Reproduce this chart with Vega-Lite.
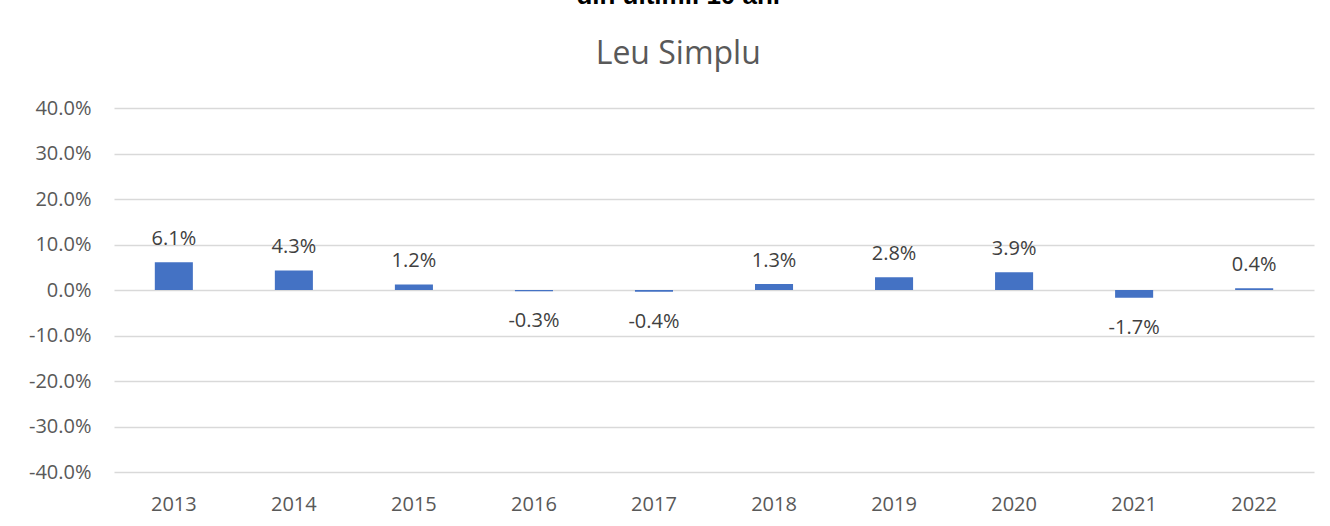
{
  "$schema": "https://vega.github.io/schema/vega-lite/v6.json",
  "autosize": "none",
  "width": 1200,
  "height": 364,
  "padding": {"left": 114, "top": 108, "right": 16, "bottom": 54},
  "background": "white",
  "title": {
    "text": "din ultimii 10 ani",
    "subtitle": "Leu Simplu",
    "anchor": "middle",
    "frame": "bounds",
    "dx": 7,
    "font": "Liberation Sans",
    "fontWeight": "bold",
    "fontSize": 26,
    "color": "#000000",
    "subtitleFont": "Open Sans",
    "subtitleFontSize": 32,
    "subtitleFontWeight": "normal",
    "subtitleColor": "#595959",
    "subtitlePadding": 30,
    "offset": 28
  },
  "data": {
    "values": [
      {"year": "2013", "value": 0.061},
      {"year": "2014", "value": 0.043},
      {"year": "2015", "value": 0.012},
      {"year": "2016", "value": -0.003},
      {"year": "2017", "value": -0.004},
      {"year": "2018", "value": 0.013},
      {"year": "2019", "value": 0.028},
      {"year": "2020", "value": 0.039},
      {"year": "2021", "value": -0.017},
      {"year": "2022", "value": 0.004}
    ]
  },
  "encoding": {
    "x": {
      "field": "year",
      "type": "nominal",
      "sort": null,
      "scale": {"paddingInner": 0.683, "paddingOuter": 0.34},
      "axis": {
        "title": null,
        "labelAngle": 0,
        "domain": false,
        "ticks": false,
        "labelFont": "Open Sans",
        "labelFontSize": 20,
        "labelColor": "#595959",
        "labelPadding": 22
      }
    },
    "y": {
      "field": "value",
      "type": "quantitative",
      "scale": {"domain": [-0.4, 0.4], "nice": false},
      "axis": {
        "title": null,
        "format": ".1%",
        "values": [-0.4, -0.3, -0.2, -0.1, 0, 0.1, 0.2, 0.3, 0.4],
        "domain": false,
        "ticks": false,
        "grid": true,
        "gridColor": "#D9D9D9",
        "gridWidth": 1.5,
        "labelFont": "Open Sans",
        "labelFontSize": 20,
        "labelColor": "#595959",
        "labelPadding": 23
      }
    }
  },
  "layer": [
    {"mark": {"type": "bar", "color": "#4472C4"}},
    {
      "transform": [{"filter": "datum.value >= 0"}],
      "mark": {"type": "text", "font": "Open Sans", "fontSize": 20, "color": "#404040", "baseline": "alphabetic", "dy": -17.5},
      "encoding": {"text": {"field": "value", "type": "quantitative", "format": ".1%"}}
    },
    {
      "transform": [{"filter": "datum.value < 0"}],
      "mark": {"type": "text", "font": "Open Sans", "fontSize": 20, "color": "#404040", "baseline": "alphabetic", "dy": 36},
      "encoding": {"text": {"field": "value", "type": "quantitative", "format": ".1%"}}
    }
  ],
  "config": {
    "view": {"stroke": null},
    "locale": {
      "number": {
        "decimal": ".",
        "thousands": ",",
        "grouping": [3],
        "currency": ["$", ""],
        "minus": "-"
      }
    }
  }
}
